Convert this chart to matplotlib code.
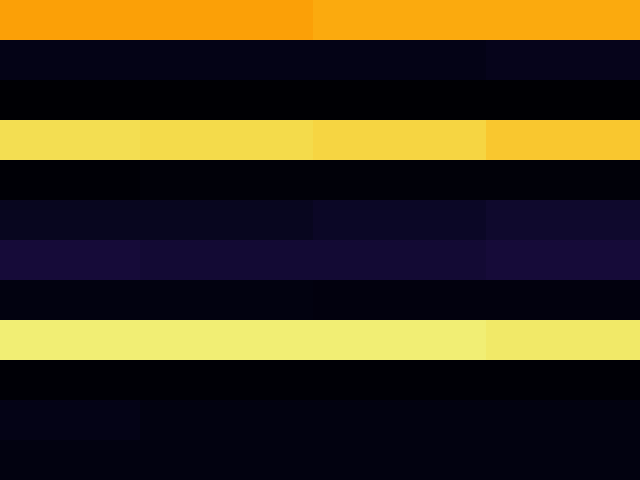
import numpy as np
import matplotlib
matplotlib.use("Agg")
import matplotlib.pyplot as plt

# cell values (0..1 on the inferno scale), 12 rows x 4 columns
row0 = [0.79, 0.79, 0.81, 0.81]
row1 = [0.040, 0.040, 0.040, 0.050]
row2 = [0.005, 0.005, 0.005, 0.005]
row3 = [0.915, 0.910, 0.895, 0.870]
row4 = [0.008, 0.018, 0.018, 0.018]
row5 = [0.055, 0.055, 0.068, 0.080]
row6 = [0.100, 0.092, 0.090, 0.098]
row7 = [0.030, 0.030, 0.026, 0.026]
row8 = [0.952, 0.952, 0.950, 0.940]
row9 = [0.010, 0.010, 0.010, 0.010]
row10 = [0.040, 0.030, 0.030, 0.030]
row11 = [0.030, 0.030, 0.030, 0.030]

data = np.array([row0, row1, row2, row3, row4, row5,
                 row6, row7, row8, row9, row10, row11])

fig = plt.figure(figsize=(6.4, 4.8), dpi=100)
ax = fig.add_axes([0, 0, 1, 1])
ax.imshow(data, cmap="inferno", vmin=0, vmax=1, aspect="auto",
          interpolation="nearest")
ax.set_xlim(-0.31, 3.39)
ax.set_ylim(11.5, -0.5)
ax.axis("off")
fig.savefig("out.png", dpi=100)
